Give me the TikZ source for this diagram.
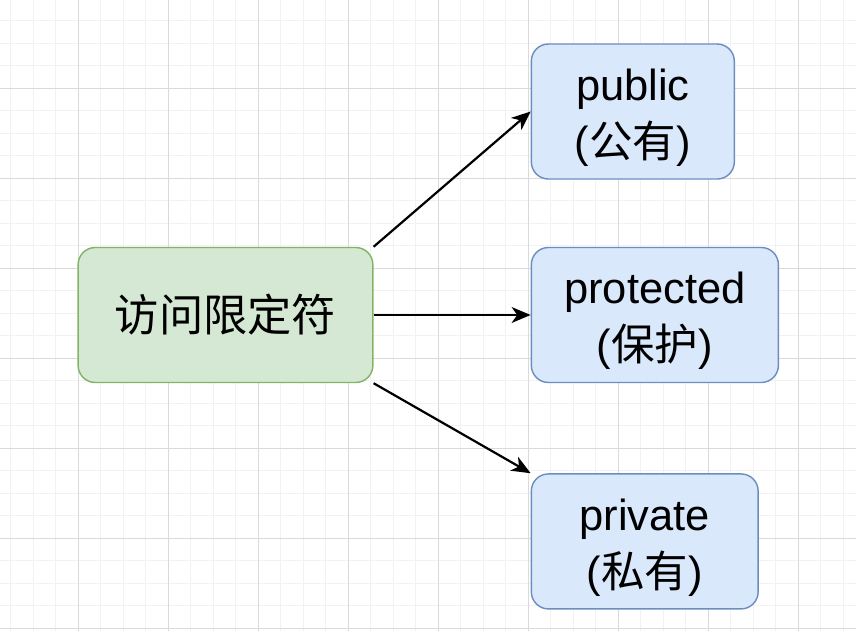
\documentclass[tikz,border=0pt]{standalone}
\usepackage{fontspec}
\setmainfont{Liberation Sans}
\newfontfamily\cjk{Noto Sans CJK SC}
\usepackage{tikz}
\usetikzlibrary{positioning, arrows.meta}
\definecolor{gridminor}{HTML}{F2F2F2}
\definecolor{gridmajor}{HTML}{DADADA}
\definecolor{rootfill}{HTML}{D5E8D4}
\definecolor{rootline}{HTML}{82B366}
\definecolor{leaffill}{HTML}{DAE8FC}
\definecolor{leafline}{HTML}{6C8EBF}
\newcommand{\highstrut}{\rule{0pt}{0.97cm}}
\tikzset{
  % green box = the root term
  rootbox/.style={rectangle, rounded corners=0.38cm, fill=rootfill,
                  draw=rootline, line width=0.9pt, minimum width=6.55cm,
                  minimum height=3cm, font=\fontsize{28}{36}\selectfont\cjk},
  % blue box = one access level
  leafbox/.style={rectangle, rounded corners=0.38cm, fill=leaffill,
                  draw=leafline, line width=0.9pt, minimum height=3cm,
                  align=center, inner sep=0pt,
                  font=\fontsize{27.5}{36}\selectfont},
  link/.style={-{Stealth[length=12pt,width=10pt,inset=3.5pt]}, line width=1.4pt},
}

\begin{document}
\begin{tikzpicture}
  \useasboundingbox (0,0) rectangle (19.022,-14.022);
  % background grid
  \begin{scope}
    \clip (0,0) rectangle (19.022,-14.022);
    \draw[gridminor, line width=0.6pt, shift={(0.2333,-0.4556)}]
      (-1,-15) grid[step=0.5] (20,1);
    \draw[gridmajor, line width=0.6pt, shift={(1.7333,-1.9556)}]
      (-2,-14) grid[step=2] (20,3);
  \end{scope}
  \node[rootbox] (access) at (5.011,-7.0) {访问限定符};
  \node[leafbox, minimum width=5.49cm, right=3.49cm of access] (prot)
    {\highstrut protected\\({\cjk 保护})};
  \node[leafbox, minimum width=4.51cm, above right=1.49cm and 0cm of prot.north west]
    (pub) {\highstrut public\\({\cjk 公有})};
  \node[leafbox, minimum width=5.04cm, below right=2cm and 0cm of prot.south west]
    (priv) {\highstrut private\\({\cjk 私有})};
  \draw[link] (access.north east) -- (pub.west);
  \draw[link] (access.east) -- (prot.west);
  \draw[link] (access.south east) -- (priv.north west);
\end{tikzpicture}
\end{document}
